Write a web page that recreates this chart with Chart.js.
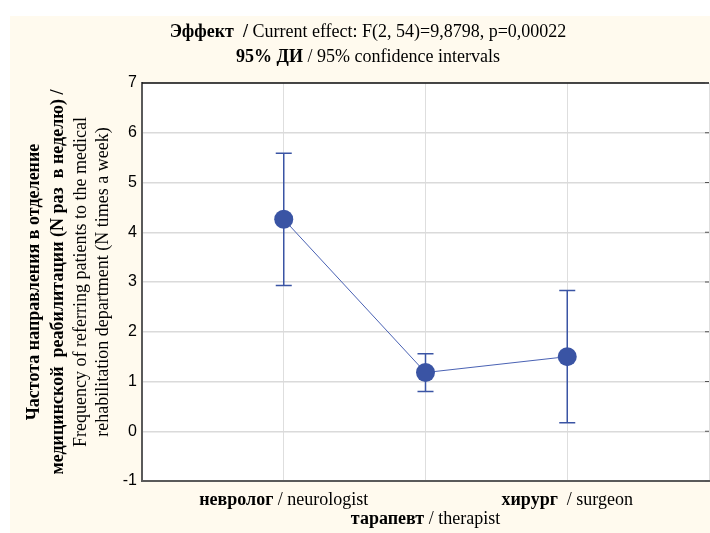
<!DOCTYPE html>
<html>
<head>
<meta charset="utf-8">
<script src="https://cdn.jsdelivr.net/npm/chart.js@4"></script>
<style>
html, body { margin: 0; padding: 0; background: #fff; overflow: hidden; }
</style>
</head>
<body>
<canvas id="effectChart" width="710" height="533"></canvas>
<script>
// Group labels (ru / en) and their position on the x axis
const groupsRu = ['невролог', 'тарапевт', 'хирург'];
const groupsEn = ['neurologist', 'therapist', 'surgeon'];
const groupPos = [1, 2, 3];

// Means and 95% confidence intervals
const means = [4.26, 1.18, 1.50];
const ciLow = [2.93, 0.80, 0.17];
const ciHigh = [5.59, 1.56, 2.83];

// Y axis range
const yMin = -1;
const yMax = 7;

const serif = '"Liberation Serif", "Times New Roman", serif';
const sans = '"Liberation Sans", Arial, sans-serif';
const blue = '#3a54a4';

// Draw a line of text made of bold / normal pieces, centred on cx
function drawMixed(ctx, parts, cx, y, size) {
    let total = 0;
    parts.forEach(p => {
        ctx.font = (p.bold ? 'bold ' : '') + size + 'px ' + serif;
        p.w = ctx.measureText(p.t).width;
        total += p.w;
    });
    let x = cx - total / 2;
    ctx.textAlign = 'left';
    ctx.textBaseline = 'middle';
    ctx.fillStyle = '#000';
    parts.forEach(p => {
        ctx.font = (p.bold ? 'bold ' : '') + size + 'px ' + serif;
        ctx.fillText(p.t, x, y);
        x += p.w;
    });
}

// Cream page with white plot area
const backgroundPlugin = {
    id: 'background',
    beforeDraw(chart) {
        const ctx = chart.ctx;
        const a = chart.chartArea;
        ctx.save();
        ctx.fillStyle = '#ffffff';
        ctx.fillRect(0, 0, chart.width, chart.height);
        ctx.fillStyle = '#fffaee';
        ctx.fillRect(10, 16, chart.width - 10, chart.height - 16);
        ctx.fillStyle = '#ffffff';
        ctx.fillRect(a.left, a.top, a.right - a.left, a.bottom - a.top);
        ctx.restore();
    }
};

// Vertical CI whiskers with caps, plus top frame and right tick marks
const errorBarPlugin = {
    id: 'errorBars',
    beforeDatasetsDraw(chart) {
        const ctx = chart.ctx;
        const xs = chart.scales.x;
        const ys = chart.scales.y;
        const a = chart.chartArea;
        ctx.save();
        ctx.strokeStyle = blue;
        ctx.lineWidth = 1.5;
        groupPos.forEach((g, i) => {
            const x = xs.getPixelForValue(g);
            const top = ys.getPixelForValue(ciHigh[i]);
            const bot = ys.getPixelForValue(ciLow[i]);
            ctx.beginPath();
            ctx.moveTo(x, top);
            ctx.lineTo(x, bot);
            ctx.moveTo(x - 8, top);
            ctx.lineTo(x + 8, top);
            ctx.moveTo(x - 8, bot);
            ctx.lineTo(x + 8, bot);
            ctx.stroke();
        });
        ctx.strokeStyle = '#111';
        ctx.lineWidth = 1.5;
        ctx.beginPath();
        ctx.moveTo(a.left, a.top);
        ctx.lineTo(a.right, a.top);
        ctx.stroke();
        ctx.strokeStyle = '#555';
        ctx.lineWidth = 1;
        ys.ticks.forEach(t => {
            const y = ys.getPixelForValue(t.value);
            ctx.beginPath();
            ctx.moveTo(a.right - 4, y);
            ctx.lineTo(a.right, y);
            ctx.stroke();
        });
        ctx.restore();
    }
};

// Titles and axis labels with mixed bold / normal text
const textPlugin = {
    id: 'texts',
    afterDraw(chart) {
        const ctx = chart.ctx;
        const xs = chart.scales.x;
        const a = chart.chartArea;
        ctx.save();
        drawMixed(ctx, [
            { t: 'Эффект  /', bold: true },
            { t: ' Current effect: F(2, 54)=9,8798, p=0,00022', bold: false }
        ], 368, 32, 18);
        drawMixed(ctx, [
            { t: '95% ДИ', bold: true },
            { t: ' / 95% confidence intervals', bold: false }
        ], 368, 57, 18);

        // x labels, the middle one is staggered lower
        const rows = [500, 519, 500];
        groupPos.forEach((g, i) => {
            const sep = i === 2 ? '  / ' : ' / ';
            drawMixed(ctx, [
                { t: groupsRu[i], bold: true },
                { t: sep + groupsEn[i], bold: false }
            ], xs.getPixelForValue(g), rows[i], 18);
        });

        // y axis title, rotated
        const cy = (a.top + a.bottom) / 2;
        const lines = [
            { x: 34, parts: [{ t: 'Частота направления в отделение', bold: true }] },
            { x: 58, parts: [{ t: 'медицинской  реабилитации (N раз  в неделю) /', bold: true }] },
            { x: 81, parts: [{ t: 'Frequency of referring patients to the medical', bold: false }] },
            { x: 103, parts: [{ t: 'rehabilitation department (N times a week)', bold: false }] }
        ];
        lines.forEach(l => {
            ctx.save();
            ctx.translate(l.x, cy);
            ctx.rotate(-Math.PI / 2);
            drawMixed(ctx, l.parts, 0, 0, 18);
            ctx.restore();
        });
        ctx.restore();
    }
};

const ctx = document.getElementById('effectChart').getContext('2d');
new Chart(ctx, {
    type: 'line',
    data: {
        datasets: [{
            data: groupPos.map((g, i) => ({ x: g, y: means[i] })),
            borderColor: '#4a62b4',
            borderWidth: 1,
            pointRadius: 9.5,
            pointBackgroundColor: blue,
            pointBorderWidth: 0,
            pointHoverRadius: 9.5,
            tension: 0
        }]
    },
    options: {
        responsive: false,
        animation: false,
        events: [],
        layout: { autoPadding: false, padding: { left: 0, top: 83, right: 1, bottom: 0 } },
        scales: {
            x: {
                type: 'linear',
                min: 0,
                max: 4,
                ticks: { display: false, stepSize: 1 },
                grid: { color: '#dedede', lineWidth: 1, drawTicks: false },
                border: { color: '#5a5a5a', width: 2 },
                afterFit(scale) {
                    scale.height = 52;
                    scale.paddingLeft = 0;
                    scale.paddingRight = 0;
                }
            },
            y: {
                min: yMin,
                max: yMax,
                ticks: {
                    stepSize: 1,
                    color: '#000',
                    padding: 5,
                    font: { family: sans, size: 16 }
                },
                grid: { color: '#dadada', lineWidth: 1.5, drawTicks: false },
                border: { color: '#5a5a5a', width: 2 },
                afterFit(scale) { scale.width = 142; }
            }
        },
        plugins: {
            legend: { display: false },
            tooltip: { enabled: false }
        }
    },
    plugins: [backgroundPlugin, errorBarPlugin, textPlugin]
});
</script>
</body>
</html>
